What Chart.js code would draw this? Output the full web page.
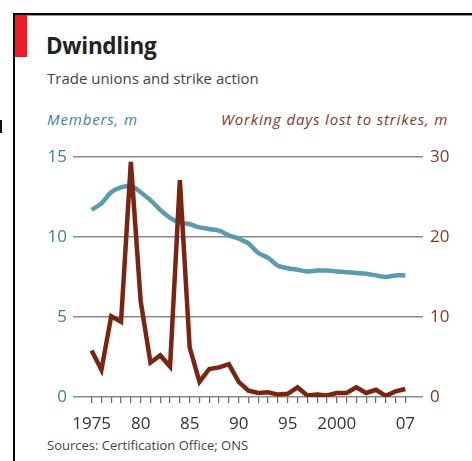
<!DOCTYPE html>
<html>
<head>
<meta charset="utf-8">
<script src="https://cdn.jsdelivr.net/npm/chart.js@4/dist/chart.umd.min.js"></script>
<style>
    body { margin: 0; background: #fff; }
    #wrap { position: relative; width: 472px; height: 461px; overflow: hidden; font-family: "Open Sans", sans-serif; }
    #frameTop { position: absolute; left: 13px; top: 13px; width: 470px; height: 2px; background: #000; border-bottom: 1px solid #999; }
    #frameLeft { position: absolute; left: 13px; top: 13px; width: 2px; height: 460px; background: #000; }
    #redBox { position: absolute; left: 15px; top: 15px; width: 12px; height: 42px; background: #ee1c25; }
    #stub { position: absolute; left: 0; top: 120px; width: 2px; height: 13px; background: #111; }
    .txt { position: absolute; white-space: nowrap; }
    #title { left: 46px; top: 30px; font-size: 22.5px; font-weight: bold; color: #222; letter-spacing: -0.3px; }
    #subtitle { left: 47px; top: 68px; font-size: 15px; color: #444; }
    #lblLeft { left: 47px; top: 109px; font-size: 15px; font-style: italic; color: #3f7f99; letter-spacing: 0.85px; }
    #lblRight { left: 221px; top: 109px; font-size: 15px; font-style: italic; color: #8a3526; letter-spacing: 0.85px; }
    #source { left: 47px; top: 436px; font-size: 13px; color: #444; }
    #chartBox { position: absolute; left: 0; top: 0; width: 472px; height: 461px; }
</style>
</head>
<body>
<div id="wrap">
    <div id="frameTop"></div>
    <div id="frameLeft"></div>
    <div id="redBox"></div>
    <div id="stub"></div>
    <div class="txt" id="title">Dwindling</div>
    <div class="txt" id="subtitle">Trade unions and strike action</div>
    <div class="txt" id="lblLeft">Members, m</div>
    <div class="txt" id="lblRight">Working days lost to strikes, m</div>
    <div class="txt" id="source">Sources: Certification Office; ONS</div>
    <div id="chartBox"><canvas id="myChart" width="472" height="461"></canvas></div>
</div>
<script>
var years = [1975, 1976, 1977, 1978, 1979, 1980, 1981, 1982, 1983, 1984, 1985, 1986, 1987, 1988, 1989, 1990,
    1991, 1992, 1993, 1994, 1995, 1996, 1997, 1998, 1999, 2000, 2001, 2002, 2003, 2004, 2005, 2006, 2007];
// trade union members, m (left axis)
var members = [11.7, 12.1, 12.8, 13.1, 13.2, 12.8, 12.3, 11.7, 11.2, 10.9, 10.8, 10.6, 10.5, 10.4, 10.1, 9.9,
    9.6, 9.0, 8.7, 8.2, 8.05, 7.95, 7.85, 7.9, 7.9, 7.85, 7.8, 7.75, 7.7, 7.6, 7.5, 7.6, 7.6];
// working days lost to strikes, m (right axis)
var strikes = [5.8, 3.4, 10.1, 9.4, 29.4, 12.0, 4.3, 5.2, 3.8, 27.1, 6.2, 1.9, 3.5, 3.7, 4.1, 1.9,
    0.8, 0.5, 0.6, 0.3, 0.4, 1.2, 0.2, 0.3, 0.2, 0.5, 0.5, 1.2, 0.5, 0.9, 0.15, 0.7, 1.0];
var yearLabels = { 1975: '1975', 1980: '80', 1985: '85', 1990: '90', 1995: '95', 2000: '2000', 2007: '07' };
var leftTicks = [0, 5, 10, 15];
var rightTicks = [0, 10, 20, 30];

var tickFont = { family: '"Open Sans", sans-serif', size: 17 };

function pts(vals) {
    var out = [];
    for (var i = 0; i < years.length; i++) {
        out.push({ x: years[i], y: vals[i] });
    }
    return out;
}

var ctx = document.getElementById('myChart').getContext('2d');
var myChart = new Chart(ctx, {
    type: 'line',
    data: {
        datasets: [{
            label: 'Working days lost to strikes, m',
            data: pts(strikes),
            yAxisID: 'yR',
            borderColor: '#7a2412',
            borderWidth: 4.5,
            pointRadius: 0,
            tension: 0,
            borderJoinStyle: 'miter'
        }, {
            label: 'Members, m',
            data: pts(members),
            yAxisID: 'yL',
            borderColor: '#5b9bb0',
            borderWidth: 4.5,
            pointRadius: 0,
            tension: 0.3
        }]
    },
    options: {
        responsive: false,
        animation: false,
        events: [],
        layout: { padding: { top: 157, left: 0, right: 0, bottom: 14 } },
        plugins: {
            legend: { display: false },
            tooltip: { enabled: false }
        },
        scales: {
            x: {
                type: 'linear',
                min: 1973.1,
                max: 2008.8,
                afterBuildTicks: function (s) {
                    s.ticks = years.map(function (v) { return { value: v }; });
                },
                afterFit: function (s) { s.height = 50; },
                border: { display: false },
                grid: {
                    display: true,
                    drawOnChartArea: false,
                    drawTicks: true,
                    tickLength: 6,
                    color: '#666',
                    lineWidth: 1.2,
                    tickColor: '#666',
                    tickWidth: 1.2
                },
                ticks: {
                    autoSkip: false,
                    maxRotation: 0,
                    padding: 11,
                    color: '#333',
                    font: tickFont,
                    callback: function (v) { return yearLabels[v] || ''; }
                }
            },
            yL: {
                position: 'left',
                min: 0,
                max: 15,
                afterBuildTicks: function (s) {
                    s.ticks = leftTicks.map(function (v) { return { value: v }; });
                },
                afterFit: function (s) { s.width = 73; },
                border: { display: false },
                grid: { drawTicks: false, color: '#8a8a8a', lineWidth: 1.5 },
                ticks: { padding: 6, color: '#3f7f99', font: tickFont }
            },
            yR: {
                position: 'right',
                min: 0,
                max: 30,
                afterBuildTicks: function (s) {
                    s.ticks = rightTicks.map(function (v) { return { value: v }; });
                },
                afterFit: function (s) { s.width = 49; },
                border: { display: false },
                grid: { display: false, drawTicks: false },
                ticks: { padding: 7, color: '#8a3526', font: tickFont }
            }
        }
    }
});
</script>
</body>
</html>
